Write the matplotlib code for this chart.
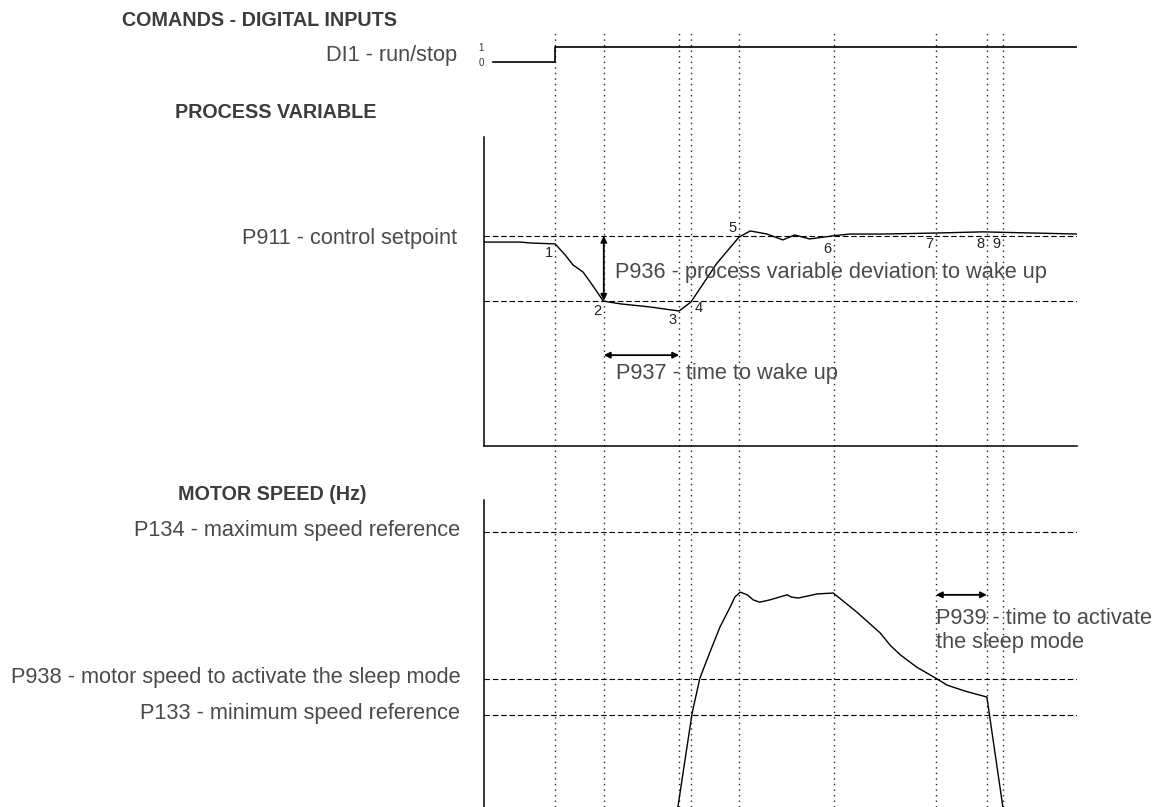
import numpy as np
import matplotlib.pyplot as plt
import matplotlib.transforms as mtransforms

# time axis (arbitrary units, 0..100 across the plot width)
eventos_t = [12.0, 20.2, 32.9, 34.9, 43.0, 59.0, 76.2, 84.8, 87.5]
eventos_lbl = ['1', '2', '3', '4', '5', '6', '7', '8', '9']

# DI1 run/stop
di_t = [1.5, 12.0, 12.0, 100.0]
di_val = [0, 0, 1, 1]

# process variable (0..100 scale)
setpoint = 68.0
niveau_reveil = 47.0
pv_t = [0.0, 6.1, 7.8, 12.0, 13.7, 15.0, 16.7, 17.9, 19.1, 20.1, 23.0, 28.0, 31.7,
        32.9, 34.9, 39.3, 43.0, 44.9, 47.7, 50.4, 52.4, 54.9, 58.8, 61.7, 67.3,
        75.7, 84.1, 100.0]
pv_val = [66.0, 66.0, 65.7, 65.4, 61.8, 58.6, 56.3, 53.1, 49.8, 46.9, 46.0, 45.0, 44.0,
          43.7, 46.6, 59.2, 67.6, 69.6, 68.6, 66.7, 68.3, 67.0, 68.0, 68.6, 68.6,
          68.9, 69.3, 68.6]
# number labels: value where each label sits, and side of the line
lbl_val = [62.5, 43.7, 40.8, 44.7, 70.5, 63.8, 65.4, 65.4, 65.4]
lbl_cote = ['right', 'right', 'right', 'left', 'right', 'right', 'right', 'right', 'right']

# motor speed (Hz)
p134 = 60.0
p938 = 28.0
p133 = 20.0
vit_t = [32.7, 33.9, 35.1, 36.4, 38.1, 39.8, 41.5, 42.3, 43.2, 44.4, 45.4, 46.5,
         48.2, 51.1, 51.9, 53.0, 56.2, 58.9, 62.9, 66.8, 68.5, 70.2, 73.0, 76.2,
         78.1, 81.1, 84.8, 87.5]
vit_hz = [0.0, 10.3, 20.5, 28.1, 33.8, 39.3, 43.6, 45.8, 46.9, 46.3, 45.2, 44.7,
          45.2, 46.3, 45.8, 45.6, 46.5, 46.7, 42.5, 38.0, 35.3, 33.2, 30.5, 28.1,
          26.6, 25.3, 24.0, 0.0]

plt.rcParams['font.family'] = ['Liberation Sans', 'DejaVu Sans']
gris = '#4a4a4a'
gris_titre = '#3c3c3c'
tirets = (0, (5, 2.5))
taille = 15.7

fig = plt.figure(figsize=(11.61, 8.07), dpi=100)
gauche, largeur = 484 / 1161, 593 / 1161

# overlay for the dotted event lines
ax_v = fig.add_axes([gauche, 0, largeur, 775 / 807])
ax_v.set_xlim(0, 100)
ax_v.set_ylim(0, 1)
ax_v.axis('off')
ax_v.patch.set_alpha(0)
for t in eventos_t:
	ax_v.axvline(t, color='#222222', lw=1.0, ls=(0, (1, 3)))

# DI1
ax_di = fig.add_axes([gauche, 740 / 807, largeur, 25 / 807])
ax_di.plot(di_t, di_val, color='black', lw=1.2)
ax_di.set_xlim(0, 100)
ax_di.set_ylim(-1 / 3, 4 / 3)
for s in ax_di.spines.values():
	s.set_visible(False)
ax_di.set_xticks([])
ax_di.set_yticks([0, 1], ['0', '1'])
ax_di.tick_params(axis='y', length=0, pad=0, labelsize=7, labelcolor='#333333')
ax_di.text(-0.045, 0.47, 'DI1 - run/stop', transform=ax_di.transAxes, ha='right', va='center',
	fontsize=taille, color=gris)
ax_di.patch.set_alpha(0)

# process variable
ax_pv = fig.add_axes([gauche, 361 / 807, largeur, 309 / 807])
ax_pv.plot(pv_t, pv_val, color='black', lw=1.0)
ax_pv.axhline(setpoint, color='black', lw=0.8, ls=tirets)
ax_pv.axhline(niveau_reveil, color='black', lw=0.8, ls=tirets)
ax_pv.set_xlim(0, 100)
ax_pv.set_ylim(0, 100)
ax_pv.spines['top'].set_visible(False)
ax_pv.spines['right'].set_visible(False)
ax_pv.spines['left'].set_linewidth(1.1)
ax_pv.spines['bottom'].set_linewidth(1.1)
ax_pv.set_xticks([])
ax_pv.set_yticks([setpoint], ['P911 - control setpoint'])
ax_pv.tick_params(axis='y', length=0, pad=19, labelsize=taille, labelcolor=gris)
ax_pv.patch.set_alpha(0)
for t, v, lab, cote in zip(eventos_t, lbl_val, eventos_lbl, lbl_cote):
	dx = -0.4 if cote == 'right' else 0.6
	ax_pv.text(t + dx, v, lab, ha=cote, va='center', fontsize=10.5, color='#222222')

ax_pv.annotate('', xy=(eventos_t[1], niveau_reveil), xytext=(eventos_t[1], setpoint),
	arrowprops=dict(arrowstyle='<|-|>', color='black', lw=1.3, mutation_scale=9, shrinkA=0, shrinkB=0))
ax_pv.text(22.1, 56.3, 'P936 - process variable deviation to wake up', ha='left', va='center',
	fontsize=taille, color=gris)
ax_pv.annotate('', xy=(eventos_t[1], 29.4), xytext=(eventos_t[2], 29.4),
	arrowprops=dict(arrowstyle='<|-|>', color='black', lw=1.3, mutation_scale=9, shrinkA=0, shrinkB=0))
ax_pv.text(22.3, 23.6, 'P937 - time to wake up', ha='left', va='center', fontsize=taille, color=gris)

# motor speed
ax_m = fig.add_axes([gauche, 0, largeur, 307 / 807])
ax_m.plot(vit_t, vit_hz, color='black', lw=1.0)
for niveau in [p134, p938, p133]:
	ax_m.axhline(niveau, color='black', lw=0.8, ls=tirets)
ax_m.set_xlim(0, 100)
ax_m.set_ylim(0, 67)
ax_m.spines['top'].set_visible(False)
ax_m.spines['right'].set_visible(False)
ax_m.spines['bottom'].set_visible(False)
ax_m.spines['left'].set_linewidth(1.1)
ax_m.set_xticks([])
ax_m.set_yticks([p134, p938, p133], ['P134 - maximum speed reference',
	'P938 - motor speed to activate the sleep mode', 'P133 - minimum speed reference'])
ax_m.tick_params(axis='y', length=0, pad=17, labelsize=taille, labelcolor=gris)
decalage = mtransforms.ScaledTranslation(0, 3 / 72, fig.dpi_scale_trans)
for lbl in ax_m.get_yticklabels():
	lbl.set_transform(lbl.get_transform() + decalage)
ax_m.patch.set_alpha(0)
ax_m.annotate('', xy=(eventos_t[6], 46.3), xytext=(eventos_t[7], 46.3),
	arrowprops=dict(arrowstyle='<|-|>', color='black', lw=1.3, mutation_scale=9, shrinkA=0, shrinkB=0))
ax_m.text(76.3, 41.2, 'P939 - time to activate', ha='left', va='center', fontsize=taille, color=gris)
ax_m.text(76.3, 35.8, 'the sleep mode', ha='left', va='center', fontsize=taille, color=gris)

# headers
fig.text(122 / 1161, 1 - 20 / 807, 'COMANDS - DIGITAL INPUTS', ha='left', va='center',
	fontsize=14.2, fontweight='bold', color=gris_titre)
fig.text(175 / 1161, 1 - 112 / 807, 'PROCESS VARIABLE', ha='left', va='center',
	fontsize=14.2, fontweight='bold', color=gris_titre)
fig.text(178 / 1161, 1 - 495 / 807, 'MOTOR SPEED (Hz)', ha='left', va='center',
	fontsize=14.2, fontweight='bold', color=gris_titre)

plt.savefig('out.png', dpi=100)
